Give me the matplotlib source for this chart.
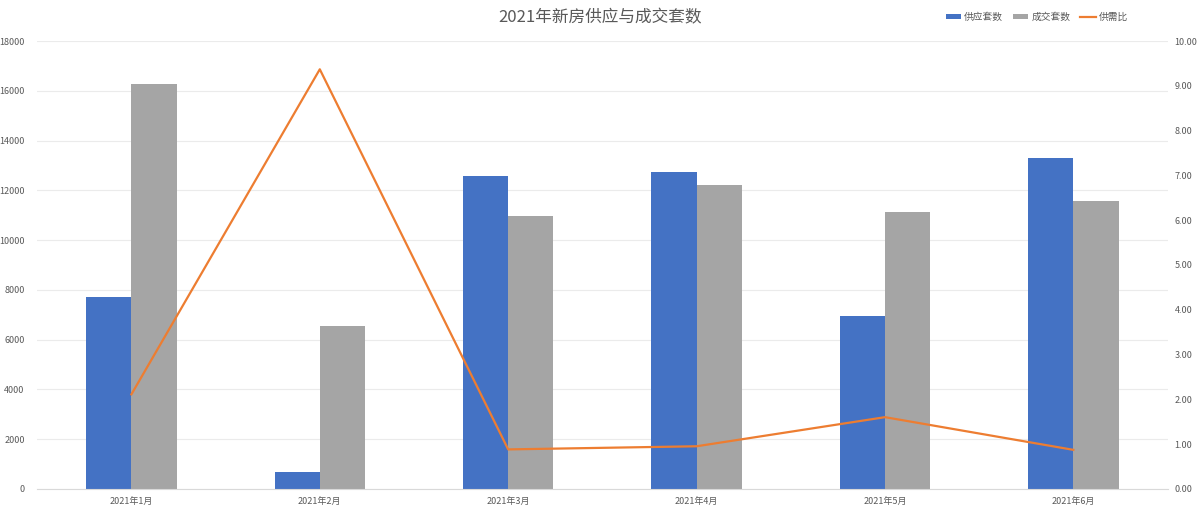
import matplotlib
matplotlib.use('Agg')
import matplotlib.pyplot as plt
import numpy as np

plt.rcParams['font.family'] = ['Noto Sans CJK SC', 'DejaVu Sans']

months = ['2021年1月', '2021年2月', '2021年3月', '2021年4月', '2021年5月', '2021年6月']
supply = [7700, 680, 12580, 12740, 6950, 13300]
sales = [16270, 6550, 10960, 12210, 11120, 11570]
ratio = [2.11, 9.37, 0.88, 0.95, 1.60, 0.87]

blue = '#4472C4'
gray = '#A5A5A5'
orange = '#ED7D31'
txt = '#595959'
grid = '#EBEBEB'

fig = plt.figure(figsize=(12, 5.2), dpi=100)
ax = fig.add_axes([0.031, 0.06, 0.942, 0.861])
ax2 = ax.twinx()

x = np.arange(len(months))
w = 0.24
ax.bar(x - w, supply, w, align='edge', color=blue, label='供应套数', zorder=2)
ax.bar(x, sales, w, align='edge', color=gray, label='成交套数', zorder=2)
ax2.plot(x, ratio, color=orange, lw=1.6, label='供需比')

ax.set_xlim(-0.5, len(months) - 0.5)
ax.set_ylim(0, 18000)
ax.set_yticks(range(0, 18001, 2000))
ax2.set_ylim(0, 10)
ax2.set_yticks(range(0, 11))
ax2.set_yticklabels(['%.2f' % v for v in range(0, 11)])

ax.set_xticks(x)
ax.set_xticklabels(months)
ax.yaxis.grid(True, color=grid, lw=0.8, zorder=0)
ax.set_axisbelow(True)

for a in (ax, ax2):
    for s in a.spines.values():
        s.set_visible(False)
    a.tick_params(length=0, labelsize=6.5, colors=txt)
ax.spines['bottom'].set_visible(True)
ax.spines['bottom'].set_color('#D9D9D9')
ax.tick_params(axis='y', pad=9)
ax.tick_params(axis='x', pad=6)
ax2.tick_params(axis='y', pad=5)

fig.text(0.5, 0.965, '2021年新房供应与成交套数', ha='center', va='center',
         fontsize=12, color=txt)

h1, l1 = ax.get_legend_handles_labels()
h2, l2 = ax2.get_legend_handles_labels()
fig.legend(h1 + h2, l1 + l2, loc='center', bbox_to_anchor=(0.864, 0.967),
           ncol=3, frameon=False, fontsize=7, labelcolor=txt,
           handlelength=1.6, handleheight=0.5, handletextpad=0.3, columnspacing=1.0)

plt.savefig('out.png', dpi=100)
